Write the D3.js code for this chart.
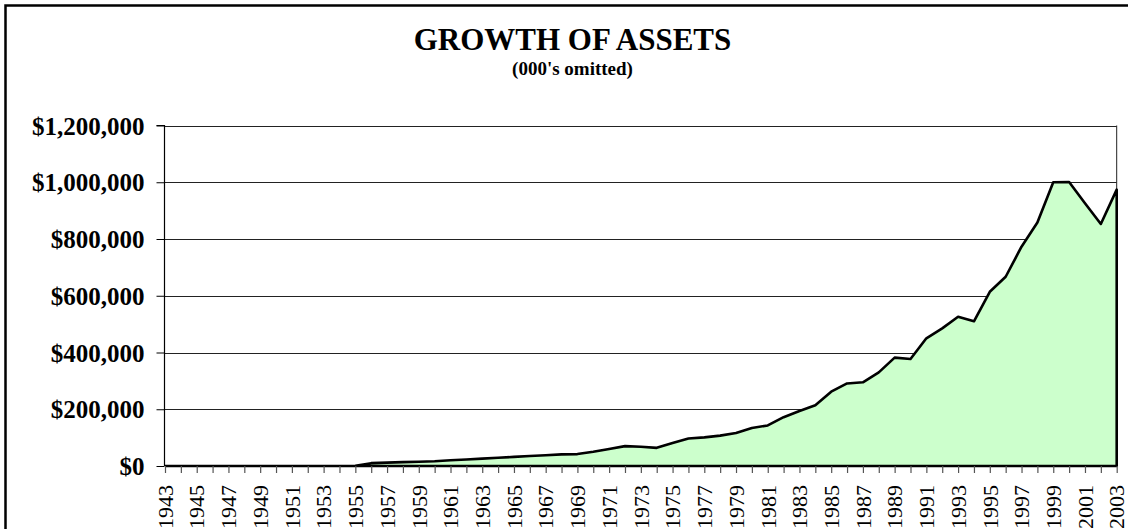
<!DOCTYPE html>
<html>
<head>
<meta charset="utf-8">
<script src="https://cdn.jsdelivr.net/npm/d3@7"></script>
<style>
  html, body { margin: 0; padding: 0; background: #fff; }
  svg { display: block; }
  text { font-family: "Liberation Serif", "Times New Roman", serif; fill: #000; }
</style>
</head>
<body>
<svg id="chart" width="1128" height="529"></svg>
<script>
// Fiscal years
const years = [
  1943, 1944, 1945, 1946, 1947, 1948, 1949, 1950, 1951, 1952,
  1953, 1954, 1955, 1956, 1957, 1958, 1959, 1960, 1961, 1962,
  1963, 1964, 1965, 1966, 1967, 1968, 1969, 1970, 1971, 1972,
  1973, 1974, 1975, 1976, 1977, 1978, 1979, 1980, 1981, 1982,
  1983, 1984, 1985, 1986, 1987, 1988, 1989, 1990, 1991, 1992,
  1993, 1994, 1995, 1996, 1997, 1998, 1999, 2000, 2001, 2002,
  2003
];

// Total assets, thousands of dollars
const assets = [
  0, 0, 0, 0, 0, 0, 0, 0, 0, 0,
  0, 0, 500, 10000, 12000, 13500, 15000, 16500, 20000, 23000,
  26000, 29000, 32000, 35000, 38000, 41000, 42000, 50000, 60000, 70000,
  68000, 64000, 81000, 97000, 101000, 107000, 116000, 134000, 143000, 172000,
  194000, 214000, 262000, 291000, 295000, 330000, 382000, 377000, 450000, 485000,
  526000, 510000, 614000, 667000, 773000, 858000, 1000000, 1001000, 926000, 853000,
  974000
];

// Value axis ticks
const yTicks = [0, 200000, 400000, 600000, 800000, 1000000, 1200000];

// Years that carry a label on the category axis
const labelYears = years.filter(y => (y - 1943) % 2 === 0);

const titleText = "GROWTH OF ASSETS";
const subtitleText = "(000's omitted)";

const data = years.map((yr, i) => ({ year: yr, value: assets[i] }));

const svg = d3.select("#chart");

// Outer chart frame (runs past the right and bottom edges of the view)
svg.append("rect")
  .attr("x", 5.5).attr("y", 5.5)
  .attr("width", 1140).attr("height", 560)
  .attr("fill", "#fff")
  .attr("stroke", "#000")
  .attr("stroke-width", 2.5);

const plotLeft = 165, plotRight = 1116.7, plotTop = 125.5, plotBottom = 466;

const x = d3.scaleLinear().domain([1943, 2003]).range([plotLeft, plotRight]);
const y = d3.scaleLinear().domain([0, 1200000]).range([plotBottom, plotTop]);

// Titles
svg.append("text")
  .attr("x", 572.5).attr("y", 50)
  .attr("text-anchor", "middle")
  .attr("font-size", 31).attr("font-weight", "bold")
  .text(titleText);

svg.append("text")
  .attr("x", 572.5).attr("y", 75)
  .attr("text-anchor", "middle")
  .attr("font-size", 19).attr("font-weight", "bold")
  .text(subtitleText);

// Horizontal gridlines
svg.append("g")
  .selectAll("line")
  .data(yTicks.filter(d => d > 0))
  .join("line")
  .attr("x1", plotLeft).attr("x2", plotRight)
  .attr("y1", d => Math.round(y(d)) + 0.5)
  .attr("y2", d => Math.round(y(d)) + 0.5)
  .attr("stroke", "#222")
  .attr("stroke-width", 1);

// Right edge of the plot area
svg.append("line")
  .attr("x1", plotRight).attr("x2", plotRight)
  .attr("y1", y(1200000)).attr("y2", plotBottom)
  .attr("stroke", "#222")
  .attr("stroke-width", 1);

// Filled area
const area = d3.area()
  .x(d => x(d.year))
  .y0(y(0))
  .y1(d => y(d.value));

svg.append("path")
  .datum(data)
  .attr("d", area)
  .attr("fill", "#ccffcc")
  .attr("stroke", "none");

const outline = d3.line()
  .x(d => x(d.year))
  .y(d => y(d.value));

// Closed outline: baseline, curve, and the closing edge at the last year
const outlinePts = [{ year: 1943, value: 0 }, ...data, { year: 2003, value: 0 }, { year: 1943, value: 0 }];
svg.append("path")
  .datum(outlinePts)
  .attr("d", outline)
  .attr("fill", "none")
  .attr("stroke", "#000")
  .attr("stroke-width", 2.6)
  .attr("stroke-linejoin", "round");

// Value axis
const yAxis = d3.axisLeft(y)
  .tickValues(yTicks)
  .tickSize(8)
  .tickPadding(12)
  .tickFormat(d => "$" + d3.format(",")(d));

const gy = svg.append("g")
  .attr("transform", `translate(${plotLeft - 0.5},0)`)
  .call(yAxis);
gy.select(".domain").attr("stroke", "#000").attr("stroke-width", 1.2).attr("d", `M-8,${plotTop}H0V${plotBottom}`);
gy.selectAll(".tick line").attr("stroke", "#000");
gy.selectAll(".tick text")
  .attr("font-family", "'Liberation Serif', 'Times New Roman', serif")
  .attr("font-size", 25)
  .attr("font-weight", "bold")
  .attr("fill", "#000")
  .attr("dy", "0.34em");

// Category axis
const xAxis = d3.axisBottom(x)
  .tickValues(years)
  .tickSize(7)
  .tickFormat(d => labelYears.includes(d) ? String(d) : "");

const gx = svg.append("g")
  .attr("transform", `translate(0,${plotBottom})`)
  .call(xAxis);
gx.select(".domain").remove();
gx.selectAll(".tick line").attr("stroke", "#555").attr("stroke-width", 1.2);
gx.selectAll(".tick text")
  .attr("font-family", "'Liberation Serif', 'Times New Roman', serif")
  .attr("font-size", 22)
  .attr("fill", "#000")
  .attr("text-anchor", "end")
  .attr("transform", "translate(0,19) rotate(-90)")
  .attr("x", 0).attr("y", 0)
  .attr("dy", "0.33em");
</script>
</body>
</html>
